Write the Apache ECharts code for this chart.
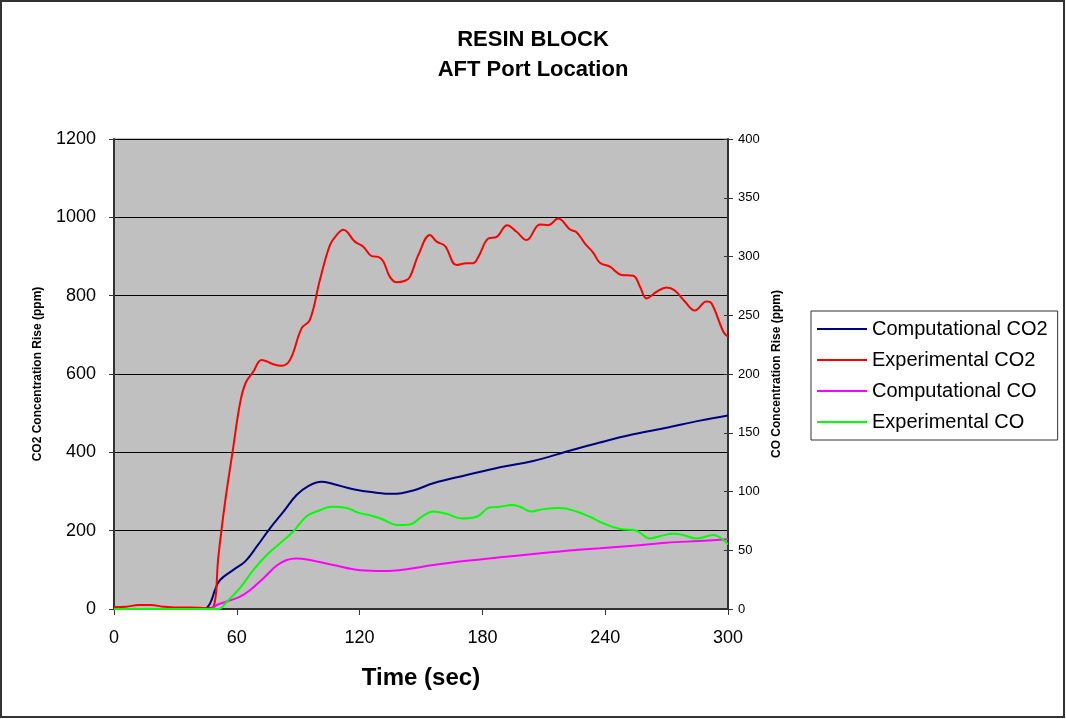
<!DOCTYPE html>
<html>
<head>
<meta charset="utf-8">
<script src="https://cdn.jsdelivr.net/npm/echarts@6/dist/echarts.min.js"></script>
<style>
  html, body { margin: 0; padding: 0; background: #fff; }
  #chart { width: 1066px; height: 719px; }
</style>
</head>
<body>
<div id="chart"></div>
<script>
// x ticks (sec)
var timeTicks = [0, 60, 120, 180, 240, 300];

// [time, ppm]
var compCO2 = [[0, 0], [44, 0], [47, 15], [49.3, 48], [51.8, 74], [58.3, 100], [64, 121], [69.7, 159],
    [76.2, 206], [82.7, 248], [89.2, 291], [94.9, 314], [101.4, 325], [107.1, 319], [116.9, 306],
    [126.7, 298], [136.4, 294], [147, 304], [156, 321], [172.3, 342], [188.6, 362], [204.8, 378],
    [221.2, 402], [237.4, 425], [253.7, 446], [270, 463], [286.3, 481], [300, 494]];

var expCO2 = [[0, 5], [6, 6], [12, 10], [18, 10], [24, 6], [30, 4], [38, 4], [45, 2], [48.5, 5],
    [51, 134], [54.2, 270], [58.3, 414], [61.6, 526], [64.3, 577], [68.1, 606], [72.1, 636],
    [77.8, 625], [81.9, 621], [86, 636], [91.7, 717], [95.7, 738], [100.6, 840], [105.5, 929],
    [108.8, 955], [112, 968], [117.7, 938], [121.8, 925], [125.9, 901], [129.1, 899], [131.6, 887],
    [134.8, 848], [138.1, 834], [142.2, 838], [144.6, 848], [148.7, 904], [154.4, 955], [157.6, 938],
    [161.7, 927], [167.4, 878], [172.3, 883], [175.5, 883], [178, 899], [182.9, 946], [187, 950],
    [192.1, 980], [196.7, 963], [201.6, 942], [208.1, 982], [212.2, 980], [217, 997], [222.8, 969],
    [226, 962], [230.1, 933], [234.1, 910], [237.4, 884], [242.3, 874], [248, 853], [253.7, 851],
    [257, 823], [260.2, 793], [265.1, 810], [270, 821], [274, 813], [278.9, 785], [283.8, 762],
    [289.5, 785], [292, 780], [297.7, 708], [300, 695]];

var compCO = [[0, 0], [46.9, 0], [50.2, 3.4], [55.8, 6.8], [61.6, 10.5], [66.4, 16], [72.9, 26],
    [79.5, 37], [84.4, 41.7], [89.2, 43], [95.7, 41.7], [107.1, 37.4], [120.2, 33], [131.6, 32.3],
    [143, 33.8], [156, 37.4], [172.3, 41], [188.6, 44], [204.8, 46.8], [221.2, 49.6], [237.4, 51.6],
    [253.7, 53.9], [270, 56.4], [286.3, 57.9], [300, 59.3]];

var expCO = [[0, 0], [51, 0], [55, 6], [61.6, 18], [68, 33], [74.6, 46], [81.1, 56], [87.6, 66],
    [94.1, 79], [100.6, 84], [106.3, 87], [113.7, 86], [119.3, 82], [126.7, 79], [131.6, 76],
    [138.1, 71.5], [144.6, 72], [150.3, 78.5], [156, 83], [162.5, 81], [169.9, 77], [177.2, 78.5],
    [183.7, 86.5], [188.6, 87], [194.3, 88.5], [198.3, 87], [204, 83], [209.7, 85], [217.9, 86],
    [226, 83], [232.5, 78.5], [239, 73], [247.2, 68], [255.3, 66.6], [261.8, 60], [266.7, 62],
    [273.2, 64], [278.1, 63], [284.6, 60], [292.8, 63], [300, 55]];

var seriesNames = ['Computational CO2', 'Experimental CO2', 'Computational CO', 'Experimental CO'];
var seriesColors = ['#000080', '#FF0000', '#FF00FF', '#00FF00'];
var seriesData = [compCO2, expCO2, compCO, expCO];
var seriesAxis = [0, 0, 1, 1];

var chart = echarts.init(document.getElementById('chart'));
var font = 'Liberation Sans, Arial, sans-serif';

var series = [];
for (var i = 0; i < seriesData.length; i++) {
    series.push({
        name: seriesNames[i],
        type: 'line',
        yAxisIndex: seriesAxis[i],
        data: seriesData[i],
        smooth: 0.4,
        showSymbol: false,
        symbol: 'none',
        lineStyle: { color: seriesColors[i], width: 2 },
        itemStyle: { color: seriesColors[i] }
    });
}

var option = {
    animation: false,
    backgroundColor: '#fff',
    textStyle: { fontFamily: font },
    title: {
        text: 'RESIN BLOCK\nAFT Port Location',
        left: 'center',
        top: 20,
        textStyle: { fontSize: 22, fontWeight: 'bold', color: '#000', lineHeight: 30, fontFamily: font }
    },
    graphic: [{
        type: 'rect',
        shape: { x: 1, y: 1, width: 1063, height: 716 },
        style: { fill: 'none', stroke: '#333', lineWidth: 2 },
        silent: true
    }],
    legend: {
        orient: 'vertical',
        left: 811,
        top: 311,
        data: seriesNames,
        icon: 'rect',
        itemWidth: 50,
        itemHeight: 2,
        itemGap: 9,
        padding: [7, 10, 7, 6],
        borderColor: '#333',
        borderWidth: 1,
        backgroundColor: '#fff',
        textStyle: { fontSize: 20, lineHeight: 22, color: '#000', fontFamily: font, padding: [0, 0, 0, 0] }
    },
    grid: {
        left: 114,
        right: 338,
        top: 139,
        bottom: 110,
        show: true,
        backgroundColor: '#C0C0C0',
        borderColor: '#808080',
        borderWidth: 1
    },
    xAxis: {
        type: 'value',
        min: 0,
        max: 300,
        interval: 60,
        name: 'Time (sec)',
        nameLocation: 'middle',
        nameGap: 57,
        nameTextStyle: { fontSize: 24, fontWeight: 'bold', color: '#000' },
        axisLine: { lineStyle: { color: '#333', width: 2 } },
        axisTick: { show: true, length: 6, lineStyle: { color: '#333' } },
        axisLabel: { fontSize: 18, color: '#000', margin: 20 },
        splitLine: { show: false }
    },
    yAxis: [{
        type: 'value',
        min: 0,
        max: 1200,
        interval: 200,
        name: 'CO2 Concentration Rise (ppm)',
        nameLocation: 'middle',
        nameGap: 70,
        nameTextStyle: { fontSize: 12, fontWeight: 'bold', color: '#000' },
        axisLine: { show: true, lineStyle: { color: '#333', width: 2 } },
        axisTick: { show: true, length: 5, lineStyle: { color: '#333' } },
        axisLabel: { fontSize: 18, color: '#000', margin: 18, formatter: function (v) { return String(v); } },
        splitLine: { show: true, lineStyle: { color: '#000', width: 1 } }
    }, {
        type: 'value',
        min: 0,
        max: 400,
        interval: 50,
        position: 'right',
        name: 'CO Concentration Rise (ppm)',
        nameLocation: 'middle',
        nameGap: 42,
        nameRotate: 90,
        nameTextStyle: { fontSize: 12, fontWeight: 'bold', color: '#000' },
        axisLine: { show: true, lineStyle: { color: '#333', width: 2 } },
        axisTick: { show: true, length: 5, lineStyle: { color: '#333' } },
        axisLabel: { fontSize: 13, color: '#000', margin: 10 },
        splitLine: { show: false }
    }, {
        // inner half of the right axis ticks
        type: 'value',
        min: 0,
        max: 400,
        interval: 50,
        position: 'right',
        axisLine: { show: false },
        axisTick: { show: true, inside: true, length: 4, lineStyle: { color: '#333' } },
        axisLabel: { show: false },
        splitLine: { show: false }
    }],
    series: series
};

chart.setOption(option);
</script>
</body>
</html>
